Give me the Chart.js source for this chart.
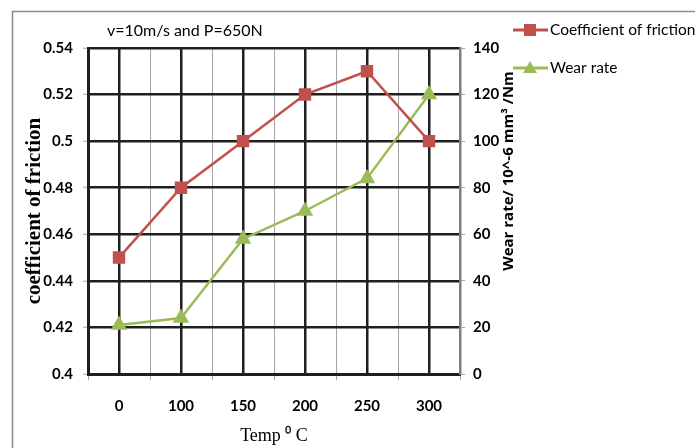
<!DOCTYPE html>
<html>
<head>
<meta charset="utf-8">
<script src="https://cdn.jsdelivr.net/npm/chart.js@4"></script>
<style>
  html, body { margin: 0; padding: 0; background: #fff; }
  #wrap { width: 695px; height: 448px; position: relative; }
</style>
</head>
<body>
<div id="wrap"><canvas id="chart" width="695" height="448"></canvas></div>
<script>
const temps = ['0', '100', '150', '200', '250', '300'];
const frictionCoef = [0.45, 0.48, 0.50, 0.52, 0.53, 0.50];
const wearRate = [21, 24, 58, 70, 84, 120];
const leftTicks = [0.4, 0.42, 0.44, 0.46, 0.48, 0.5, 0.52, 0.54];

const RED = '#C0504D';
const GREEN = '#9BBB59';
const tickFont = { family: 'Lato', size: 15, weight: 'bold' };

// extra texts, legend and the outer frame
const decor = {
  id: 'decor',
  beforeDraw(chart) {
    const ctx = chart.ctx;
    ctx.save();
    ctx.strokeStyle = '#8c8c8c';
    ctx.lineWidth = 1.5;
    ctx.beginPath();
    ctx.moveTo(12.5, 448);
    ctx.lineTo(12.5, 11.5);
    ctx.lineTo(695, 11.5);
    ctx.stroke();
    ctx.restore();
  },
  afterDraw(chart) {
    const ctx = chart.ctx;
    ctx.save();
    ctx.fillStyle = '#000';
    ctx.textBaseline = 'middle';
    ctx.font = '16px Lato';
    ctx.fillText('v=10m/s and P=650N', 107, 31);

    // right axis title, reading bottom to top
    ctx.save();
    ctx.translate(509, 171);
    ctx.rotate(-Math.PI / 2);
    ctx.textAlign = 'center';
    ctx.font = 'bold 15px "Open Sans"';
    ctx.fillText('Wear rate/ 10^-6 mm\u00B3 /Nm', 0, 0);
    ctx.restore();

    // legend
    const items = [
      { label: 'Coefficient of friction', color: RED, shape: 'rect', y: 30 },
      { label: 'Wear rate', color: GREEN, shape: 'triangle', y: 68 }
    ];
    items.forEach(it => {
      ctx.strokeStyle = it.color;
      ctx.fillStyle = it.color;
      ctx.lineWidth = 3;
      ctx.beginPath();
      ctx.moveTo(513, it.y);
      ctx.lineTo(548, it.y);
      ctx.stroke();
      if (it.shape === 'rect') {
        ctx.fillRect(524, it.y - 6, 12, 12);
      } else {
        ctx.beginPath();
        ctx.moveTo(530, it.y - 7);
        ctx.lineTo(537, it.y + 5);
        ctx.lineTo(523, it.y + 5);
        ctx.closePath();
        ctx.fill();
      }
      ctx.fillStyle = '#000';
      ctx.font = '15.5px Lato';
      ctx.textAlign = 'left';
      ctx.fillText(it.label, 550, it.y);
    });
    ctx.restore();
  }
};

new Chart(document.getElementById('chart'), {
  type: 'line',
  data: {
    datasets: [
      {
        label: 'Coefficient of friction',
        data: frictionCoef.map((v, i) => ({ x: i, y: v })),
        borderColor: RED,
        backgroundColor: RED,
        borderWidth: 2.5,
        pointStyle: 'rect',
        pointRadius: 7,
        pointHoverRadius: 7,
        yAxisID: 'y',
        tension: 0
      },
      {
        label: 'Wear rate',
        data: wearRate.map((v, i) => ({ x: i, y: v })),
        borderColor: GREEN,
        backgroundColor: GREEN,
        borderWidth: 2.5,
        pointStyle: 'triangle',
        pointRadius: 7,
        pointHoverRadius: 7,
        yAxisID: 'y1',
        tension: 0
      }
    ]
  },
  options: {
    responsive: false,
    animation: false,
    layout: { padding: { left: 14, top: 48, right: 0, bottom: 0 } },
    plugins: {
      legend: { display: false },
      tooltip: { enabled: false }
    },
    scales: {
      x: {
        type: 'linear',
        min: -0.5,
        max: 5.5,
        afterBuildTicks(scale) {
          const t = [];
          for (let i = 0; i <= 12; i++) t.push({ value: -0.5 + i * 0.5 });
          scale.ticks = t;
        },
        afterFit(scale) { scale.height = 74; },
        ticks: {
          autoSkip: false,
          maxRotation: 0,
          padding: 17,
          color: '#000',
          font: tickFont,
          callback: v => (Number.isInteger(v) ? temps[v] : '')
        },
        grid: {
          lineWidth: ctx => (Number.isInteger(ctx.tick.value) ? 2.5 : 1),
          color: ctx => (Number.isInteger(ctx.tick.value) ? '#1f1f1f' : '#a6a6a6'),
          tickColor: ctx => (Number.isInteger(ctx.tick.value) ? 'rgba(0,0,0,0)' : '#a6a6a6'),
          tickLength: 6,
          tickWidth: 1
        },
        border: { color: '#1f1f1f', width: 3 },
        title: {
          display: true,
          text: 'Temp \u2070 C',
          color: '#000',
          font: { family: 'Liberation Serif', size: 18 },
          padding: { top: 0, bottom: 1 }
        }
      },
      y: {
        position: 'left',
        min: 0.4,
        max: 0.54,
        afterBuildTicks(scale) { scale.ticks = leftTicks.map(v => ({ value: v })); },
        afterFit(scale) { scale.width = 74; },
        ticks: {
          padding: 10,
          color: '#000',
          font: tickFont,
          callback: v => String(+v.toFixed(2))
        },
        grid: {
          color: '#1f1f1f',
          lineWidth: 2.5,
          tickColor: '#a6a6a6',
          tickLength: 5,
          tickWidth: 1
        },
        border: { color: '#1f1f1f', width: 3 },
        title: {
          display: true,
          text: 'coefficient of friction',
          color: '#000',
          font: { family: 'Liberation Serif', size: 21, weight: 'bold' },
          padding: { top: 8, bottom: 0 }
        }
      },
      y1: {
        position: 'right',
        min: 0,
        max: 140,
        afterFit(scale) { scale.width = 235; },
        ticks: {
          stepSize: 20,
          padding: 8,
          color: '#000',
          font: tickFont
        },
        grid: {
          drawOnChartArea: false,
          tickColor: '#a6a6a6',
          tickLength: 5,
          tickWidth: 1
        },
        border: { color: '#7f7f7f', width: 2.5 }
      }
    }
  },
  plugins: [decor]
});
</script>
</body>
</html>
